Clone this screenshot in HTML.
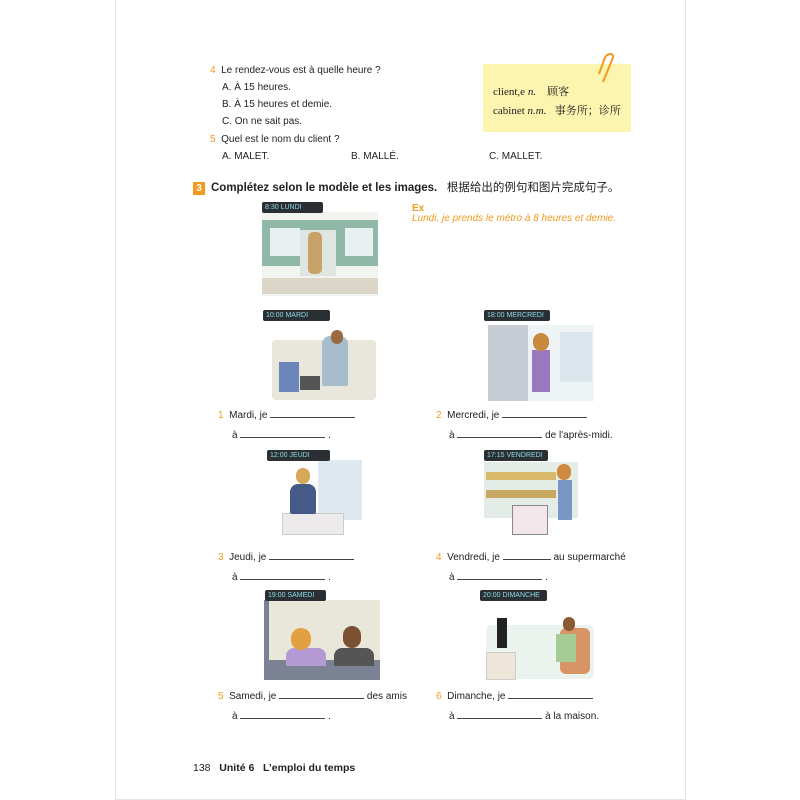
<!DOCTYPE html>
<html><head><meta charset="utf-8"><style>
body{margin:0;width:800px;height:800px;background:#fff;position:relative;overflow:hidden;font-family:"Liberation Sans","Noto Sans CJK SC",sans-serif;color:#222}
.pg{position:absolute;left:115px;top:-2px;width:569px;height:800px;border:1px solid #e4e4e4;background:#fff}
.t{position:absolute;font-size:10px;white-space:nowrap;line-height:12px}
.n{color:#f39a1e}
.lbl{position:absolute;height:11px;background:#2a2f33;border-radius:2px;color:#8fd8e8;font-size:7px;line-height:11px;padding-left:3px;font-family:"Liberation Sans",sans-serif;white-space:nowrap;box-sizing:border-box;overflow:hidden}
.u{display:inline-block;border-bottom:1px solid #444;height:9px;vertical-align:baseline}
.img{position:absolute}
</style></head><body>
<div class="pg"></div>

<div class="t" style="left:210px;top:65px"><span class="n">4</span>&nbsp; Le rendez-vous est à quelle heure ?</div>
<div class="t" style="left:222px;top:82px">A. À 15 heures.</div>
<div class="t" style="left:222px;top:99px">B. À 15 heures et demie.</div>
<div class="t" style="left:222px;top:116px">C. On ne sait pas.</div>
<div class="t" style="left:210px;top:134px"><span class="n">5</span>&nbsp; Quel est le nom du client ?</div>
<div class="t" style="left:222px;top:151px">A. MALET.</div>
<div class="t" style="left:351px;top:151px">B. MALLÉ.</div>
<div class="t" style="left:489px;top:151px">C. MALLET.</div>

<div style="position:absolute;left:483px;top:64px;width:148px;height:68px;background:#fdf4b0"></div>
<svg style="position:absolute;left:596px;top:52px" width="24" height="34"><path d="M7 30 L16 8 Q19 2 14 2 Q10 2 8 8 L3 22" fill="none" stroke="#f39a1e" stroke-width="2"/></svg>
<div class="t" style="left:493px;top:86px;font-family:'Liberation Serif','Noto Serif CJK SC',serif;font-size:11px">client,e <i>n.</i> &nbsp;&nbsp; 顾客</div>
<div class="t" style="left:493px;top:105px;font-family:'Liberation Serif','Noto Serif CJK SC',serif;font-size:11px">cabinet <i>n.m.</i> &nbsp; 事务所；诊所</div>

<div style="position:absolute;left:193px;top:182px;width:12px;height:13px;background:#f39a1e;color:#fff;font-weight:bold;font-size:10px;text-align:center;line-height:13px">3</div>
<div class="t" style="left:211px;top:182px;font-size:11.5px;font-weight:bold">Complétez selon le modèle et les images.&nbsp;&nbsp; <span style="font-weight:normal">根据给出的例句和图片完成句子。</span></div>

<div class="t" style="left:412px;top:203px;color:#f39a1e;font-weight:bold">Ex</div>
<div class="t" style="left:412px;top:213px;color:#f39a1e;font-style:italic">Lundi, je prends le métro à 8 heures et demie.</div>

<div class="img" style="left:262px;top:212px;width:116px;height:84px;background:#f2f4f0"></div>
<div class="img" style="left:262px;top:220px;width:116px;height:46px;background:#8fb8a8"></div>
<div class="img" style="left:270px;top:228px;width:30px;height:28px;background:#e8f0f2"></div>
<div class="img" style="left:345px;top:228px;width:28px;height:28px;background:#e8f0f2"></div>
<div class="img" style="left:300px;top:230px;width:36px;height:46px;background:#dfe6e2"></div>
<div class="img" style="left:308px;top:232px;width:14px;height:42px;background:#c9a26a;border-radius:5px"></div>
<div class="img" style="left:262px;top:278px;width:116px;height:16px;background:#dcd6c8"></div>
<div class="lbl" style="left:262px;top:202px;width:61px">8:30 LUNDI</div>

<div class="img" style="left:272px;top:340px;width:104px;height:60px;background:#e9e6dc;border-radius:4px"></div>
<div class="img" style="left:279px;top:362px;width:20px;height:30px;background:#6b86b8"></div>
<div class="img" style="left:300px;top:376px;width:20px;height:14px;background:#555"></div>
<div class="img" style="left:322px;top:336px;width:26px;height:50px;background:#a8bdcc;border-radius:8px 8px 2px 2px"></div>
<div class="img" style="left:331px;top:330px;width:12px;height:14px;background:#9a6a40;border-radius:6px"></div>
<div class="lbl" style="left:263px;top:310px;width:67px">10:00 MARDI</div>

<div class="img" style="left:488px;top:325px;width:106px;height:76px;background:#eef3f6"></div>
<div class="img" style="left:488px;top:325px;width:40px;height:76px;background:#c8ccd4"></div>
<div class="img" style="left:560px;top:332px;width:32px;height:50px;background:#dbe6ec"></div>
<div class="img" style="left:532px;top:350px;width:18px;height:42px;background:#9a78c0"></div>
<div class="img" style="left:533px;top:333px;width:16px;height:18px;background:#c88a3e;border-radius:8px"></div>
<div class="lbl" style="left:484px;top:310px;width:66px">18:00 MERCREDI</div>

<div class="t" style="left:218px;top:408px"><span class="n">1</span>&nbsp; Mardi, je <span class="u" style="width:85px"></span></div>
<div class="t" style="left:232px;top:428px">à <span class="u" style="width:85px"></span> .</div>
<div class="t" style="left:436px;top:408px"><span class="n">2</span>&nbsp; Mercredi, je <span class="u" style="width:85px"></span></div>
<div class="t" style="left:449px;top:428px">à <span class="u" style="width:85px"></span> de l'après-midi.</div>

<div class="img" style="left:318px;top:460px;width:44px;height:60px;background:#dde9ee"></div>
<div class="img" style="left:282px;top:513px;width:60px;height:20px;background:#eceaea;border:1px solid #ccc"></div>
<div class="img" style="left:290px;top:484px;width:26px;height:30px;background:#455a86;border-radius:8px 8px 2px 2px"></div>
<div class="img" style="left:296px;top:468px;width:14px;height:16px;background:#d5a85a;border-radius:7px"></div>
<div class="lbl" style="left:267px;top:450px;width:63px">12:00 JEUDI</div>

<div class="img" style="left:484px;top:462px;width:94px;height:56px;background:#e4ece8"></div>
<div class="img" style="left:486px;top:472px;width:70px;height:8px;background:#d9b96a"></div>
<div class="img" style="left:486px;top:490px;width:70px;height:8px;background:#c8a860"></div>
<div class="img" style="left:558px;top:480px;width:14px;height:40px;background:#7a96c4"></div>
<div class="img" style="left:557px;top:464px;width:14px;height:16px;background:#d08a40;border-radius:7px"></div>
<div class="img" style="left:512px;top:505px;width:34px;height:28px;border:1px solid #888;background:#f3e6ea"></div>
<div class="lbl" style="left:484px;top:450px;width:64px">17:15 VENDREDI</div>

<div class="t" style="left:218px;top:550px"><span class="n">3</span>&nbsp; Jeudi, je <span class="u" style="width:85px"></span></div>
<div class="t" style="left:232px;top:570px">à <span class="u" style="width:85px"></span> .</div>
<div class="t" style="left:436px;top:550px"><span class="n">4</span>&nbsp; Vendredi, je <span class="u" style="width:48px"></span> au supermarché</div>
<div class="t" style="left:449px;top:570px">à <span class="u" style="width:85px"></span> .</div>

<div class="img" style="left:264px;top:600px;width:116px;height:80px;background:#e9e7d9"></div>
<div class="img" style="left:264px;top:600px;width:5px;height:80px;background:#7b8294"></div>
<div class="img" style="left:264px;top:660px;width:116px;height:20px;background:#7b8294"></div>
<div class="img" style="left:286px;top:648px;width:40px;height:18px;background:#b49ad4;border-radius:8px 8px 0 0"></div>
<div class="img" style="left:291px;top:628px;width:20px;height:22px;background:#e3a040;border-radius:10px"></div>
<div class="img" style="left:334px;top:648px;width:40px;height:18px;background:#555;border-radius:8px 8px 0 0"></div>
<div class="img" style="left:343px;top:626px;width:18px;height:22px;background:#7a5030;border-radius:9px"></div>
<div class="lbl" style="left:265px;top:590px;width:61px">19:00 SAMEDI</div>

<div class="img" style="left:486px;top:625px;width:108px;height:54px;background:#eaf3ee;border-radius:6px"></div>
<div class="img" style="left:486px;top:652px;width:28px;height:26px;background:#efe6da;border:1px solid #ccc"></div>
<div class="img" style="left:497px;top:618px;width:10px;height:30px;background:#222"></div>
<div class="img" style="left:560px;top:628px;width:30px;height:46px;background:#d99466;border-radius:6px"></div>
<div class="img" style="left:556px;top:634px;width:20px;height:28px;background:#a6cc96"></div>
<div class="img" style="left:563px;top:617px;width:12px;height:14px;background:#8b5a30;border-radius:6px"></div>
<div class="lbl" style="left:480px;top:590px;width:67px">20:00 DIMANCHE</div>

<div class="t" style="left:218px;top:689px"><span class="n">5</span>&nbsp; Samedi, je <span class="u" style="width:85px"></span> des amis</div>
<div class="t" style="left:232px;top:709px">à <span class="u" style="width:85px"></span> .</div>
<div class="t" style="left:436px;top:689px"><span class="n">6</span>&nbsp; Dimanche, je <span class="u" style="width:85px"></span></div>
<div class="t" style="left:449px;top:709px">à <span class="u" style="width:85px"></span> à la maison.</div>

<div class="t" style="left:193px;top:762px;font-size:10.5px">138 &nbsp; <b>Unité 6 &nbsp;&nbsp;L’emploi du temps</b></div>
</body></html>
